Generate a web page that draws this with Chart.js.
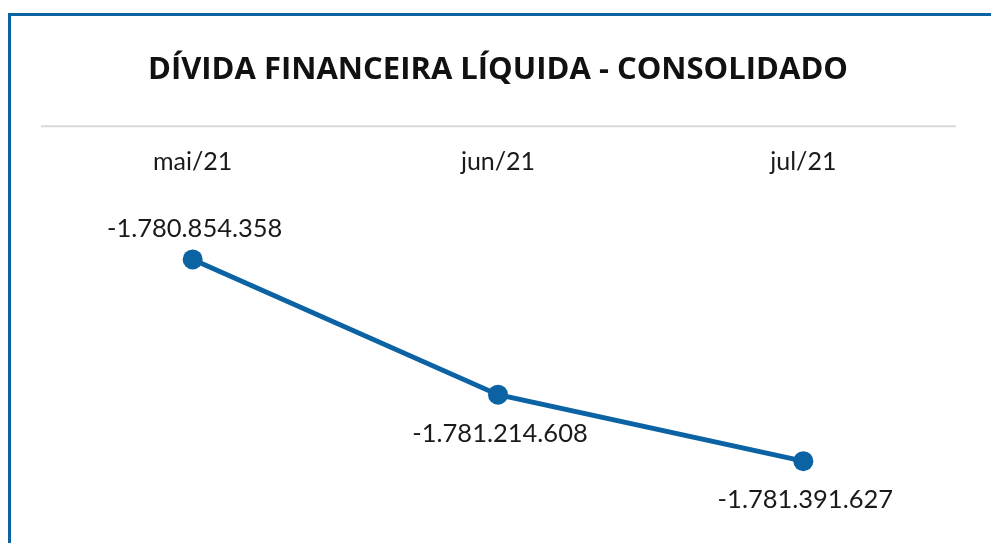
<!DOCTYPE html>
<html>
<head>
<meta charset="utf-8">
<script src="https://cdn.jsdelivr.net/npm/chart.js@4"></script>
<style>
  html, body { margin: 0; padding: 0; background: #fff; overflow: hidden; }
  #frame {
    position: absolute; left: 8px; top: 13px; width: 1000px; height: 600px;
    border-left: 3px solid #0b63a4; border-top: 3px solid #0b63a4;
  }
  #wrap { position: absolute; left: 0; top: 0; width: 991px; height: 543px; }
</style>
</head>
<body>
<div id="frame"></div>
<div id="wrap"><canvas id="myChart"></canvas></div>
<script>
const titleText = 'DÍVIDA FINANCEIRA LÍQUIDA - CONSOLIDADO';
const months = ['mai/21', 'jun/21', 'jul/21'];
const dividaLiquida = [-1780854358, -1781214608, -1781391627];
const labelSide = ['top', 'bottom', 'bottom'];
const yRange = [-1781583000, -1780638000];

const blue = '#0b63a4';

const fmt = v => (v < 0 ? '-' : '') + Math.abs(v).toString().replace(/\B(?=(\d{3})+(?!\d))/g, '.');

// line under the title + value labels at each point
const decorations = {
  id: 'decorations',
  afterDraw(chart) {
    const ctx = chart.ctx;
    const x = chart.scales.x;
    const area = chart.chartArea;
    ctx.save();
    ctx.strokeStyle = '#d9d9d9';
    ctx.lineWidth = 2;
    ctx.beginPath();
    ctx.moveTo(area.left + 1, x.top - 20);
    ctx.lineTo(area.right, x.top - 20);
    ctx.stroke();

    ctx.font = '25.5px Lato';
    ctx.fillStyle = '#1a1a1a';
    ctx.textAlign = 'center';
    ctx.textBaseline = 'middle';
    chart.getDatasetMeta(0).data.forEach((pt, i) => {
      const dy = labelSide[i] === 'top' ? -31 : 39;
      ctx.fillText(fmt(dividaLiquida[i]), pt.x + 2, pt.y + dy);
    });
    ctx.restore();
  }
};

const ctx = document.getElementById('myChart');
new Chart(ctx, {
  type: 'line',
  data: {
    labels: months,
    datasets: [{
      data: dividaLiquida,
      borderColor: blue,
      backgroundColor: blue,
      borderWidth: 5,
      pointRadius: 10,
      pointHoverRadius: 10,
      pointBackgroundColor: blue,
      pointBorderWidth: 0,
      tension: 0,
      clip: false
    }]
  },
  options: {
    responsive: true,
    maintainAspectRatio: false,
    animation: false,
    layout: { padding: { top: 14, left: 40, right: 35, bottom: 4 } },
    plugins: {
      legend: { display: false },
      tooltip: { enabled: false },
      title: {
        display: true,
        text: titleText,
        color: '#111',
        font: { family: 'Open Sans', size: 31, weight: 'bold', lineHeight: 1.2 },
        padding: { top: 38, bottom: 57 }
      }
    },
    scales: {
      x: {
        position: 'top',
        offset: true,
        grid: { display: false, drawTicks: false },
        border: { display: false },
        ticks: { color: '#1a1a1a', padding: 1, font: { family: 'Lato', size: 25 } }
      },
      y: {
        display: false,
        min: yRange[0],
        max: yRange[1]
      }
    }
  },
  plugins: [decorations]
});
</script>
</body>
</html>
